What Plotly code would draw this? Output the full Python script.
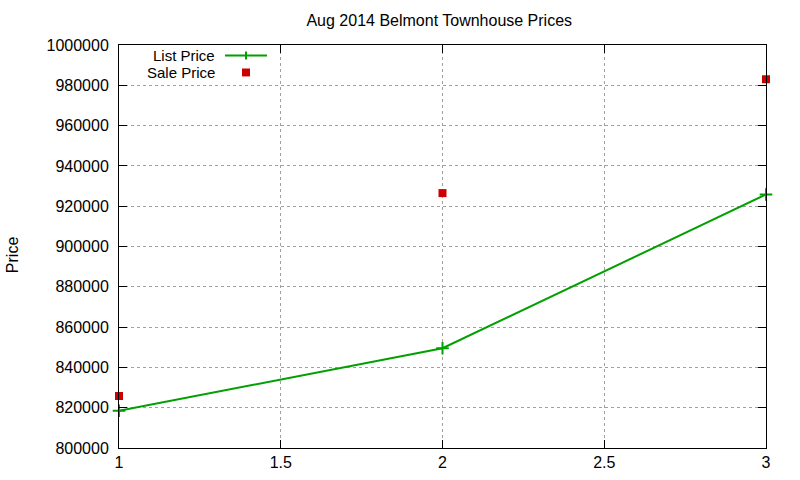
import plotly.graph_objects as go

# Aug 2014 Belmont townhouse sales
sale_index = [1, 2, 3]
list_price = [818500, 849500, 925800]
sale_price = [825800, 926500, 983000]

y_ticks = list(range(800000, 1000001, 20000))
x_ticks = [1, 1.5, 2, 2.5, 3]

green = "#00a000"
red = "#cc0000"

fig = go.Figure()

fig.add_trace(go.Scatter(
    x=sale_index, y=list_price,
    mode="lines+markers",
    name="List Price",
    line=dict(color=green, width=2),
    marker=dict(symbol="cross-thin", size=9, line=dict(color=green, width=2)),
    cliponaxis=False,
))
fig.add_trace(go.Scatter(
    x=sale_index, y=sale_price,
    mode="markers",
    name="Sale Price",
    marker=dict(symbol="square", size=8, color=red),
    cliponaxis=False,
))

# gnuplot style key: text on the left, sample on the right
key_font = dict(family="Liberation Sans, Arial", size=15, color="black")
fig.add_annotation(xref="paper", yref="paper", x=0.150, y=0.974, text="List Price",
                   showarrow=False, xanchor="right", yanchor="middle", borderpad=0, font=key_font)
fig.add_annotation(xref="paper", yref="paper", x=0.150, y=0.9318, text="Sale Price",
                   showarrow=False, xanchor="right", yanchor="middle", borderpad=0, font=key_font)
fig.add_shape(type="line", xref="paper", yref="paper", x0=0.1638, x1=0.2287, y0=0.974, y1=0.974,
              line=dict(color=green, width=2))
fig.add_shape(type="line", xref="paper", yref="paper", x0=0.1963, x1=0.1963, y0=0.9641, y1=0.9839,
              line=dict(color=green, width=2))
fig.add_shape(type="rect", xref="paper", yref="paper", x0=0.1901, x1=0.2025, y0=0.922, y1=0.9417,
              line=dict(width=0), fillcolor=red)

# y axis label placed like gnuplot's
fig.add_annotation(xref="paper", yref="paper", x=-0.1654, y=0.481, text="Price",
                   textangle=-90, showarrow=False, xanchor="center", yanchor="middle",
                   font=dict(family="Liberation Sans, Arial", size=16, color="black"))

axis_style = dict(
    showline=True, linecolor="black", linewidth=1, mirror="allticks",
    ticks="inside", ticklen=8, tickcolor="black",
    showgrid=True, gridcolor="#a0a0a0", griddash="dot", gridwidth=1,
    zeroline=False, automargin=False,
)

fig.update_layout(
    width=800, height=480,
    margin=dict(l=119, r=34, t=45, b=32),
    paper_bgcolor="white",
    plot_bgcolor="white",
    font=dict(family="Liberation Sans, Arial", size=16, color="black"),
    title=dict(text="Aug 2014 Belmont Townhouse Prices", x=0.495, xref="paper", xanchor="center",
               y=0.9583, yanchor="middle", font=dict(size=16)),
    showlegend=False,
    xaxis=dict(range=[1, 3], tickvals=x_ticks, ticktext=[str(t) for t in x_ticks],
               ticklabelstandoff=0, **axis_style),
    yaxis=dict(range=[800000, 1000000], tickvals=y_ticks, ticktext=[str(t) for t in y_ticks],
               ticklabelstandoff=6, **axis_style),
)

# drop the page's default body margin so the figure sits at the window corner
fig.write_html("out.html", config={"displayModeBar": False},
               post_script="document.body.style.margin='0px';")
